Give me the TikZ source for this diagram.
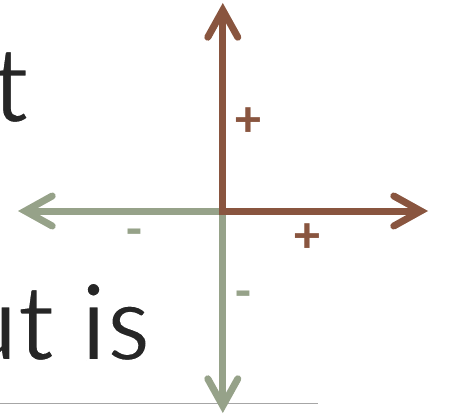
\documentclass[tikz,border=0pt]{standalone}
\usepackage{fontspec}
\setmainfont{Carlito}
\newfontfamily\thinfont{Carlito}[FakeBold=1.6]
\usetikzlibrary{arrows.meta}
\definecolor{axbrown}{RGB}{137,85,63}
\definecolor{axsage}{RGB}{150,162,137}
\definecolor{txtdark}{RGB}{38,38,38}
\definecolor{rulegray}{RGB}{166,166,166}
\newcommand\whitestroke{\special{pdf:code 1 1 1 RG}}
\tikzset{
  axis/.style={line width=7pt, line join=miter,
    -{Straight Barb[length=27pt, width=30pt, line cap=round, line join=miter]}},
  bigtext/.style={inner sep=0pt, anchor=base east, text=txtdark,
    font=\thinfont\fontsize{112}{112}\selectfont},
  signmark/.style={inner sep=0pt, font=\fontsize{52}{52}\selectfont\bfseries}
}
\begin{document}
\begin{tikzpicture}[x=1pt,y=-1pt]
\useasboundingbox (0,0) rectangle (449,415);
\clip (0,0) rectangle (449,415);
\node[bigtext] (w1) at (30,122) {\whitestroke t};
\node[bigtext] (w2) at (150.5,360) {\whitestroke ut is};
\coordinate (rs) at (0,403.3);
\coordinate (re) at (318,403.3);
\draw[rulegray, line width=1.2pt] (rs) -- (re);
\coordinate (O) at (222.8,211);
\coordinate (T) at (222.8,3);
\coordinate (R) at (428,211);
\coordinate (L) at (18,211);
\coordinate (D) at (222.8,413);
\draw[axis, axsage] (O) -- (L);
\draw[axis, axsage] (O) -- (D);
\draw[axis, axbrown] (O) -- (T);
\draw[axis, axbrown] (O) -- (R);
\fill[axbrown] (219.3,207.5) rectangle (226.3,214.5);
\node[signmark, text=axbrown] (pu) at (248,122) {+};
\node[signmark, text=axbrown] (pr) at (307,238.5) {+};
\node[signmark, text=axsage] (ml) at (134,238) {-};
\node[signmark, text=axsage] (md) at (243,300) {-};
\end{tikzpicture}
\end{document}
